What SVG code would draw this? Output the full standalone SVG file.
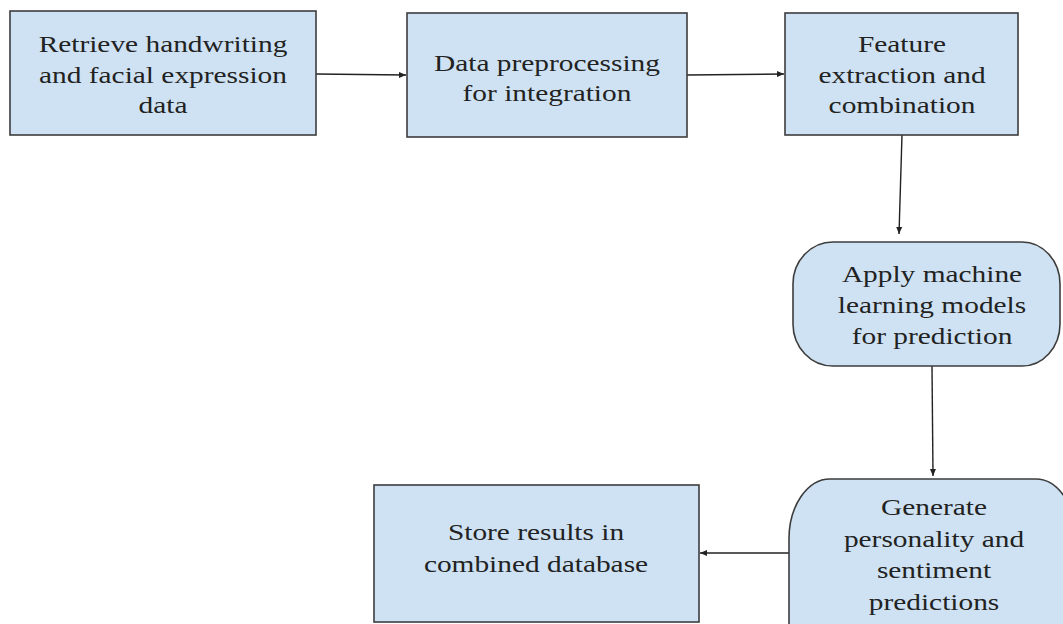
<svg xmlns="http://www.w3.org/2000/svg" width="1063" height="624" viewBox="0 0 1063 624">
<style>
.node{fill:#cfe2f3;stroke:#3d3d3d;stroke-width:1.6}
.lbl{font-family:"Liberation Serif","Times New Roman",serif;font-size:23.5px;fill:#222;text-anchor:middle}
.edge{fill:none;stroke:#222;stroke-width:1.4;marker-end:url(#ah)}
</style>
<defs>
<marker id="ah" markerWidth="8" markerHeight="8" refX="7" refY="4" orient="auto" markerUnits="userSpaceOnUse">
<path d="M0,1 L7,4 L0,7 Z" fill="#222"/>
</marker>
</defs>
<rect width="1063" height="624" fill="#ffffff"/>
<g id="connectors">
<path class="edge" d="M316,74 L406,75"/>
<path class="edge" d="M687,75 L784,74"/>
<path class="edge" d="M902,135 L899,234"/>
<path class="edge" d="M932,366 L933,476"/>
<path class="edge" d="M790,553 L700,553"/>
</g>
<g id="n1">
<rect class="node" x="10" y="11" width="306" height="124"/>
<g class="lbl">
<text transform="translate(163,52) scale(1.25,1)">Retrieve handwriting</text>
<text transform="translate(163,83) scale(1.25,1)">and facial expression</text>
<text transform="translate(163,113) scale(1.25,1)">data</text>
</g>
</g>
<g id="n2">
<rect class="node" x="407" y="13" width="280" height="124"/>
<g class="lbl">
<text transform="translate(547,71) scale(1.25,1)">Data preprocessing</text>
<text transform="translate(547,101) scale(1.25,1)">for integration</text>
</g>
</g>
<g id="n3">
<rect class="node" x="785" y="13" width="233" height="122"/>
<g class="lbl">
<text transform="translate(902,52) scale(1.25,1)">Feature</text>
<text transform="translate(902,83) scale(1.25,1)">extraction and</text>
<text transform="translate(902,113) scale(1.25,1)">combination</text>
</g>
</g>
<g id="n4">
<path class="node" d="M833,242 L1022,242 A38,42 0 0 1 1060,284 L1060,324 A38,42 0 0 1 1022,366 L833,366 A40,42 0 0 1 793,324 L793,284 A40,42 0 0 1 833,242 Z"/>
<g class="lbl">
<text transform="translate(932,282) scale(1.25,1)">Apply machine</text>
<text transform="translate(932,313) scale(1.25,1)">learning models</text>
<text transform="translate(932,344) scale(1.25,1)">for prediction</text>
</g>
</g>
<g id="n5">
<path class="node" d="M830,479 L1036,479 A40,60 0 0 1 1076,539 L1076,630 L789,630 L789,539 A41,60 0 0 1 830,479 Z"/>
<g class="lbl">
<text transform="translate(934,515) scale(1.25,1)">Generate</text>
<text transform="translate(934,547) scale(1.25,1)">personality and</text>
<text transform="translate(934,578) scale(1.25,1)">sentiment</text>
<text transform="translate(934,610) scale(1.25,1)">predictions</text>
</g>
</g>
<g id="n6">
<rect class="node" x="374" y="485" width="325" height="137"/>
<g class="lbl">
<text transform="translate(536,540) scale(1.25,1)">Store results in</text>
<text transform="translate(536,572) scale(1.25,1)">combined database</text>
</g>
</g>
</svg>
